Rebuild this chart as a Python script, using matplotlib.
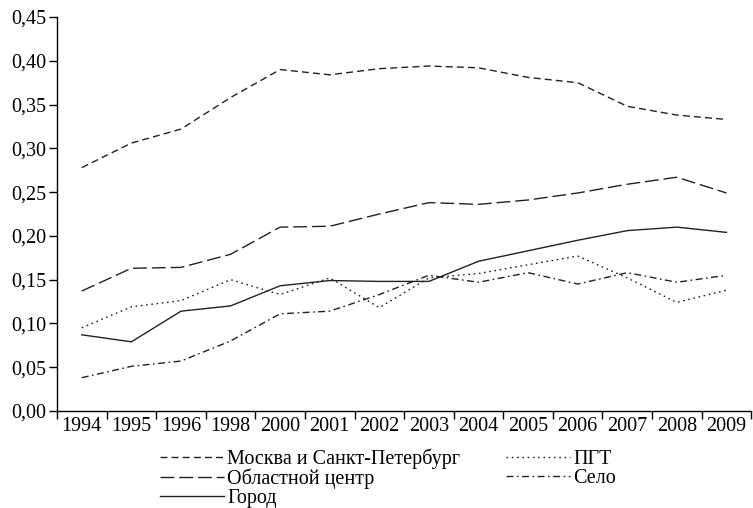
import matplotlib.pyplot as plt
import numpy as np
from matplotlib.ticker import FuncFormatter

plt.rcParams['font.family'] = ['Liberation Serif', 'DejaVu Serif']

# Годы (категории по оси X)
years = ['1994', '1995', '1996', '1998', '2000', '2001', '2002', '2003',
         '2004', '2005', '2006', '2007', '2008', '2009']

# Значения по типам поселений
moscow_spb = [0.278, 0.306, 0.322, 0.358, 0.390, 0.384, 0.391, 0.394,
              0.392, 0.381, 0.375, 0.348, 0.338, 0.333]
oblast_center = [0.137, 0.163, 0.164, 0.179, 0.210, 0.211, 0.225, 0.238,
                 0.236, 0.241, 0.249, 0.259, 0.267, 0.249]
gorod = [0.087, 0.079, 0.114, 0.120, 0.143, 0.149, 0.148, 0.148,
         0.171, 0.183, 0.195, 0.206, 0.210, 0.204]
pgt = [0.095, 0.119, 0.126, 0.150, 0.133, 0.152, 0.118, 0.152,
       0.157, 0.167, 0.177, 0.152, 0.124, 0.138]
selo = [0.038, 0.051, 0.057, 0.080, 0.111, 0.114, 0.133, 0.155,
        0.147, 0.158, 0.145, 0.158, 0.147, 0.155]

fig = plt.figure(figsize=(7.53, 5.08), dpi=100)
ax = fig.add_axes([0.0757, 0.191, 0.922, 0.7755])

x = np.arange(len(years))
lw = 1.0
l1, = ax.plot(x, moscow_spb, color='#222222', lw=lw, dashes=(5, 3),
              label='Москва и Санкт-Петербург')
l2, = ax.plot(x, oblast_center, color='#222222', lw=lw, dashes=(10, 3.5),
              label='Областной центр')
l3, = ax.plot(x, gorod, color='#222222', lw=lw, label='Город')
l4, = ax.plot(x, pgt, color='#222222', lw=lw, dashes=(1.2, 2.6), label='ПГТ')
l5, = ax.plot(x, selo, color='#222222', lw=lw, dashes=(5, 2.5, 1.2, 2.5),
              label='Село')

ax.set_xlim(-0.5, len(years) - 0.5)
ax.set_ylim(0, 0.45)
ax.set_yticks(np.arange(0, 0.451, 0.05))
ax.yaxis.set_major_formatter(FuncFormatter(lambda v, p: f'{v:.2f}'.replace('.', ',')))

ax.set_xticks(x)
ax.set_xticklabels(years)
ax.set_xticks(np.arange(-0.5, len(years), 1.0), minor=True)
ax.tick_params(axis='x', which='major', length=0, pad=4, labelsize=14.5)
ax.tick_params(axis='x', which='minor', length=6, width=1, direction='out')
ax.tick_params(axis='y', length=6, width=1, direction='out', labelsize=14.5, pad=2)

for s in ['top', 'right']:
    ax.spines[s].set_visible(False)
for s in ['left', 'bottom']:
    ax.spines[s].set_linewidth(1.0)

fig.legend(handles=[l1, l2, l3, l4, l5], ncol=2, loc='upper left',
           bbox_to_anchor=(0.2125, 0.117), frameon=False, fontsize=14.5,
           handlelength=3.2, handletextpad=0.15, labelspacing=-0.02,
           columnspacing=2.25, borderpad=0, borderaxespad=0)

fig.savefig('out.png', dpi=100)
